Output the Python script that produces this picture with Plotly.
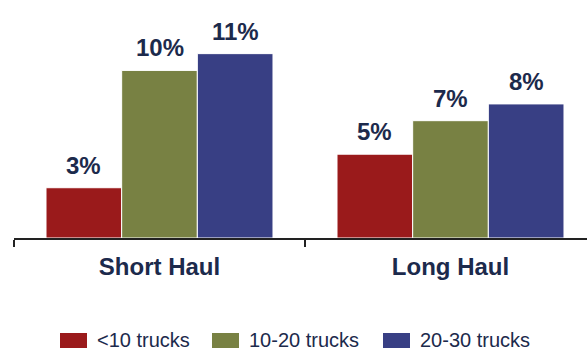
import plotly.graph_objects as go

# Chart data
categories = ["Short Haul", "Long Haul"]
series_names = ["<10 trucks", "10-20 trucks", "20-30 trucks"]
series_values = {
    "<10 trucks": [3, 5],
    "10-20 trucks": [10, 7],
    "20-30 trucks": [11, 8],
}
series_colors = {
    "<10 trucks": "#9A1A1B",
    "10-20 trucks": "#788143",
    "20-30 trucks": "#383F84",
}

W, H = 587, 357
M_L, M_R, M_T, M_B = 14, 0, 20, 119
PLOT_W = W - M_L - M_R
PLOT_H = H - M_T - M_B
CAT_PX = 291          # pixel width of one category slot
BARGAP = 0.22
BAR_PX = CAT_PX * (1 - BARGAP) / len(series_names)
LABEL_COLOR = "#1C2A4C"
FONT = "Liberation Sans, Arial, sans-serif"


def px_to_paper(x, y):
    return (x - M_L) / PLOT_W, (H - M_B - y) / PLOT_H


fig = go.Figure()
for i, name in enumerate(series_names):
    vals = series_values[name]
    fig.add_trace(go.Bar(
        x=categories,
        y=vals,
        name=name,
        marker=dict(color=series_colors[name], line=dict(color="white", width=1)),
        showlegend=False,
    ))
    # value labels sitting above each bar
    offset = (i - (len(series_names) - 1) / 2) * BAR_PX
    for cat, v in zip(categories, vals):
        fig.add_annotation(x=cat, y=v, xref="x", yref="y",
                           xshift=offset, yshift=7,
                           xanchor="center", yanchor="bottom", showarrow=False,
                           text=f"<b>{v}%</b>",
                           font=dict(family=FONT, size=24, color=LABEL_COLOR))

# Legend drawn as swatches + labels below the axis
legend_items = [(60, 95), (212, 247), (383, 418)]
for name, (sx, tx) in zip(series_names, legend_items):
    x0, y0 = px_to_paper(sx, 348)
    x1, y1 = px_to_paper(sx + 27, 333)
    fig.add_shape(type="rect", xref="paper", yref="paper",
                  x0=x0, x1=x1, y0=y0, y1=y1,
                  fillcolor=series_colors[name], line=dict(width=0))
    ax, ay = px_to_paper(tx, 340)
    fig.add_annotation(xref="paper", yref="paper", x=ax, y=ay,
                       xanchor="left", yanchor="middle", showarrow=False,
                       text=name.replace("<", "&lt;"),
                       font=dict(family=FONT, size=20, color=LABEL_COLOR))

fig.update_layout(
    width=W, height=H,
    margin=dict(l=M_L, r=M_R, t=M_T, b=M_B, pad=0),
    paper_bgcolor="white", plot_bgcolor="white",
    barmode="group", bargap=BARGAP, bargroupgap=0,
    showlegend=False,
    xaxis=dict(
        type="category",
        range=[-0.5, -0.5 + PLOT_W / CAT_PX],
        tickmode="array",
        tickvals=categories,
        ticktext=[f"<b>{c}</b>" for c in categories],
        tickson="boundaries",
        ticks="outside", ticklen=7, tickwidth=2, tickcolor="#222222",
        showline=True, linecolor="#222222", linewidth=2,
        showgrid=False, zeroline=False,
        tickfont=dict(family=FONT, size=24, color=LABEL_COLOR),
        ticklabelstandoff=6,
    ),
    yaxis=dict(
        range=[0, PLOT_H / 16.76],
        visible=False,
        showgrid=False, zeroline=False,
    ),
)

fig.write_html("out.html")
